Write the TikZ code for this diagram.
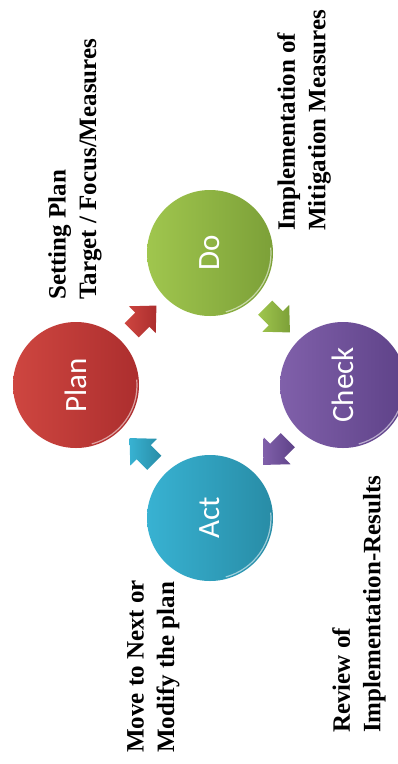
\documentclass[tikz,border=0pt]{standalone}
\usepackage{fontspec}
\setmainfont{Liberation Serif}
\newfontfamily\stagefont{Carlito}
\usetikzlibrary{calc}

\definecolor{planL}{RGB}{206,70,64}
\definecolor{planR}{RGB}{172,46,46}
\definecolor{doL}{RGB}{160,198,78}
\definecolor{doR}{RGB}{124,160,56}
\definecolor{checkL}{RGB}{128,96,170}
\definecolor{checkR}{RGB}{94,66,136}
\definecolor{actL}{RGB}{56,178,210}
\definecolor{actR}{RGB}{40,140,166}

\tikzset{
	stage/.style={circle, minimum size=126pt, inner sep=0pt, text=white,
		font=\stagefont\fontsize{31}{31}\selectfont},
	note/.style={rotate=90, anchor=north west, inner sep=0pt, align=left,
		font=\bfseries\fontsize{25}{30.5}\selectfont},
	pics/flowarrow/.style 2 args={code={
		\shade[left color=#1, right color=#2]
			(-16,-10) -- (-1,-10) -- (-1,-19) -- (19,0) -- (-1,19) -- (-1,10) -- (-16,10) -- cycle;
	}},
}

\begin{document}
\begin{tikzpicture}[x=1pt,y=1pt]

	\useasboundingbox (0,0) rectangle (398,-764);

	\coordinate (p) at (76,-385);
	\coordinate (d) at (210,-253);
	\coordinate (c) at (343,-385);
	\coordinate (a) at (210,-518);

	\node[stage, left color=planL, right color=planR] (plan) at (p) {\rotatebox{90}{Plan}};
	\node[stage, left color=doL, right color=doR] (do) at (d) {\rotatebox{90}{Do}};
	\node[stage, left color=checkL, right color=checkR] (check) at (c) {\rotatebox{90}{Check}};
	\node[stage, left color=actL, right color=actR] (act) at (a) {\rotatebox{90}{Act}};

	\foreach \s in {plan,do,check,act}
		\draw[white, opacity=.55, line width=1.2pt]
			($(\s.center)+(-75:61)$) arc[start angle=-75, end angle=5, radius=61];

	\pic[rotate=45] (pd) at ($(plan)!0.5!(do)$) {flowarrow={planL}{planR}};
	\pic[rotate=-45] (dc) at ($(do)!0.5!(check)$) {flowarrow={doL}{doR}};
	\pic[rotate=-135] (ca) at ($(check)!0.5!(act)$) {flowarrow={checkL}{checkR}};
	\pic[rotate=135] (ap) at ($(act)!0.5!(plan)$) {flowarrow={actL}{actR}};

	\node[note] (setplan) at (48,-300) {Setting Plan\\Target / Focus/Measures};
	\node[note] (impl) at (277,-231) {Implementation of\\Mitigation Measures};
	\node[note] (review) at (332,-733) {Review of\\Implementation-Results};
	\node[note] (move) at (127,-753) {Move to Next or\\Modify the plan};

\end{tikzpicture}
\end{document}
